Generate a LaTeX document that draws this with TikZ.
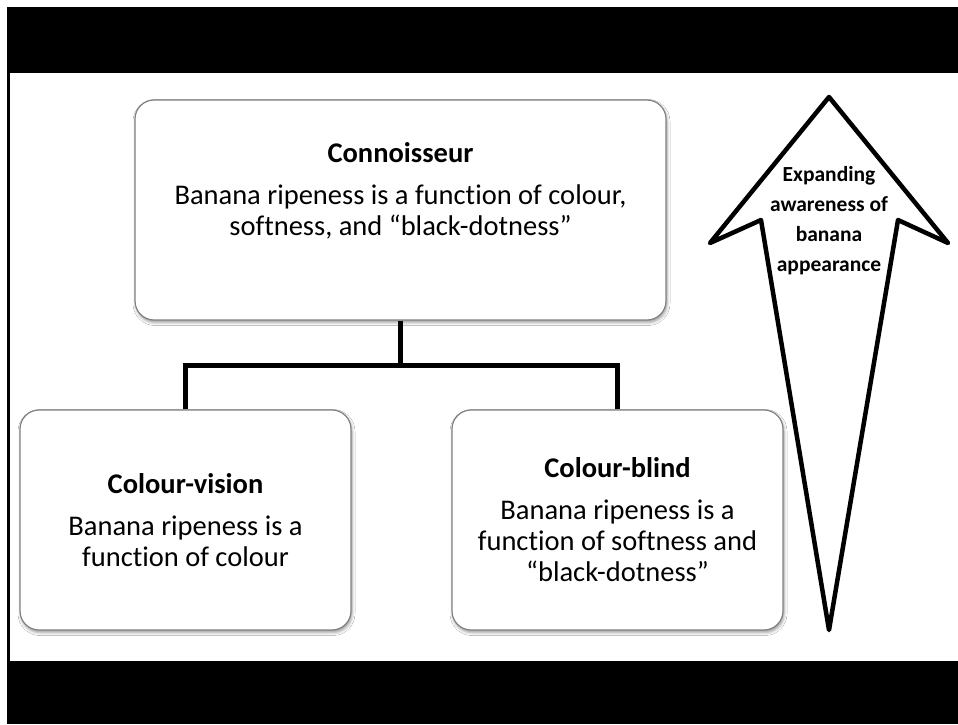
\documentclass[tikz,border=0pt]{standalone}
\usepackage{fontspec}
\setmainfont[Ligatures=NoCommon]{Carlito}
\usetikzlibrary{shadows.blur}
\begin{document}
\begin{tikzpicture}[x=1pt,y=-1pt,
  box/.style={draw=black!50, line width=1.2pt, fill=white, rounded corners=19pt,
    minimum width=331pt, minimum height=220pt,
    blur shadow={shadow xshift=1pt, shadow yshift=-2.5pt, shadow blur radius=3pt, shadow opacity=40}},
  boxtext/.style={align=center, font=\fontsize{28.5}{31}\selectfont, inner sep=0pt},
  arrowtext/.style={align=center, font=\fontsize{21.5}{30}\selectfont\bfseries, inner sep=0pt},
  link/.style={line width=5pt, line join=miter},
  band/.style={fill=black, draw=none}]
\useasboundingbox (0,0) rectangle (958,724);
\fill[white] (0,0) rectangle (958,724);
% frame: top and bottom bands, thin left rule
\fill[band] (7,7) rectangle (958,73);
\fill[band] (7,661) rectangle (958,724);
\fill[band] (7,73) rectangle (10,661);

% boxes
\node[box, minimum width=531pt] (conn) at (400.5,210) {};
\node[box] (cv) at (185.5,520) {};
\node[box] (cb) at (617.5,520) {};

% box texts
\node[boxtext] (conn-t) at (400.5,191) {\textbf{Connoisseur}\\[11pt]Banana ripeness is a function of colour,\\softness, and “black-dotness”};
\node[boxtext] (cv-t) at (cv.center) {\textbf{Colour-vision}\\[11pt]Banana ripeness is a\\function of colour};
\node[boxtext] (cb-t) at (cb.center) {\textbf{Colour-blind}\\[11pt]Banana ripeness is a\\function of softness and\\“black-dotness”};

% tree connectors
\coordinate (hub) at (400.5,365);
\draw[link] (conn.south) -- (hub);
\draw[link] (cv.north) |- (hub) -| (cb.north);

% tapered arrow
\draw[line width=4.5pt, line join=round]
  (829,97) -- (948,243) -- (898,220) -- (829,630) -- (761,220) -- (710,243) -- cycle;
\node[arrowtext] (trend) at (829,221) {Expanding\\awareness of\\banana\\appearance};
\end{tikzpicture}
\end{document}
